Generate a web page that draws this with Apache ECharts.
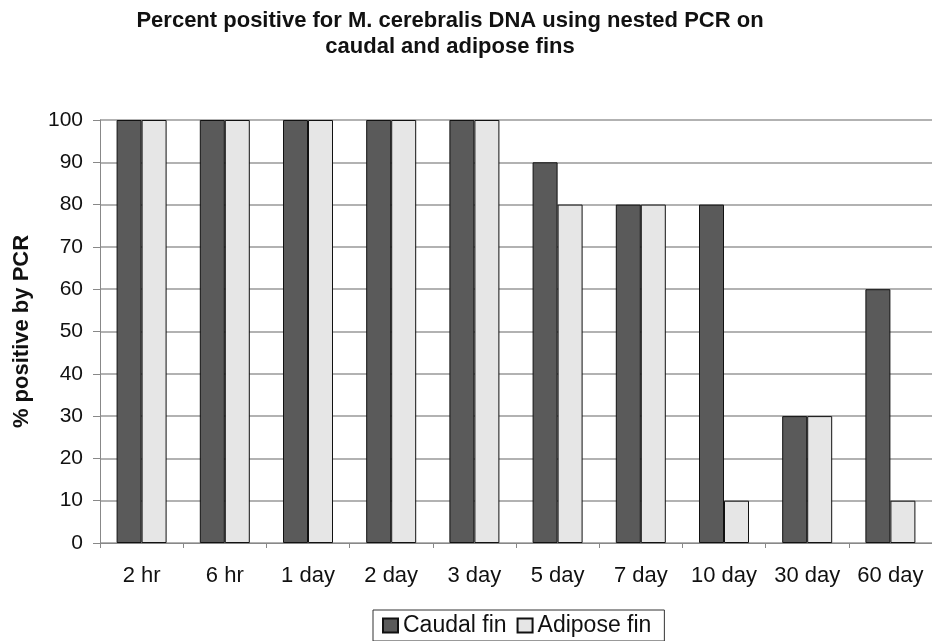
<!DOCTYPE html>
<html><head><meta charset="utf-8">
<script src="https://cdn.jsdelivr.net/npm/echarts@6/dist/echarts.min.js"></script>
<style>html,body{margin:0;padding:0;background:#fff}#c{width:932px;height:641px}</style>
</head><body><div id="c"></div>
<script>
const categories = ['2 hr','6 hr','1 day','2 day','3 day','5 day','7 day','10 day','30 day','60 day'];
const caudal = [100,100,100,100,100,90,80,80,30,60];
const adipose = [100,100,100,100,100,80,80,10,30,10];
const yTicks = [0,10,20,30,40,50,60,70,80,90,100];

const chart = echarts.init(document.getElementById('c'));
const font = '"Liberation Sans", Arial, sans-serif';
chart.setOption({
  animation:false,
  backgroundColor:'#fff',
  title:{
    text:'Percent positive for M. cerebralis DNA using nested PCR on\ncaudal and adipose fins',
    left:450, top:8, textAlign:'center', padding:0,
    textStyle:{fontFamily:font,fontSize:22,fontWeight:'bold',color:'#111',lineHeight:26}
  },
  legend:{
    data:['Caudal fin','Adipose fin'],
    left:373, top:610, itemWidth:15, itemHeight:14, itemGap:10,
    padding:[4,13,4,9],
    borderColor:'#333', borderWidth:1,
    icon:'rect',
    textStyle:{fontFamily:font,fontSize:23,color:'#111'}
  },
  grid:{left:100, top:120, width:840, height:423, containLabel:false},
  xAxis:{
    type:'category', data:categories,
    axisLine:{lineStyle:{color:'#888',width:1}},
    axisTick:{show:true,length:5,lineStyle:{color:'#888'}},
    axisLabel:{fontFamily:font,fontSize:22,color:'#111',margin:22,interval:0}
  },
  yAxis:{
    type:'value', min:0, max:100, interval:10,
    name:'% positive by PCR', nameLocation:'middle', nameGap:67, nameRotate:90,
    nameTextStyle:{fontFamily:font,fontSize:22,fontWeight:'bold',color:'#111'},
    axisLine:{show:true,lineStyle:{color:'#888'}},
    axisTick:{show:true,length:7,inside:false,lineStyle:{color:'#888'}},
    axisLabel:{fontFamily:font,fontSize:21,color:'#111',margin:17,
      formatter:v=>yTicks.includes(v)?String(v):''},
    splitLine:{lineStyle:{color:'#999',width:1.5}}
  },
  series:[
    {name:'Caudal fin',type:'bar',data:caudal,barWidth:25,barGap:'0%',
     itemStyle:{color:'#5a5a5a',borderColor:'#111',borderWidth:1}},
    {name:'Adipose fin',type:'bar',data:adipose,barWidth:25,barGap:'0%',
     itemStyle:{color:'#e6e6e6',borderColor:'#111',borderWidth:1}}
  ]
});
</script></body></html>
